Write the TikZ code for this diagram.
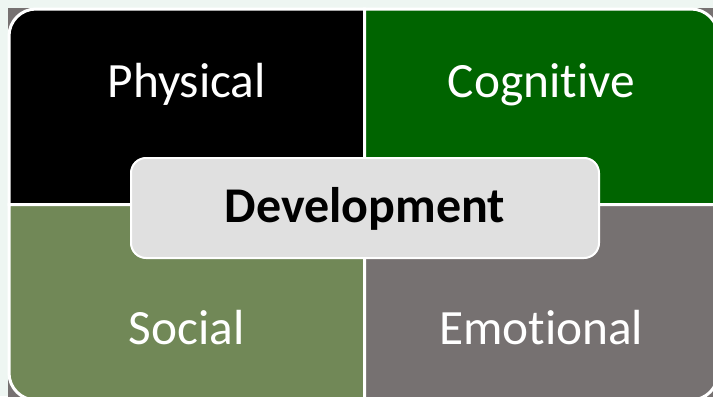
\documentclass[tikz,border=0pt]{standalone}
\usepackage{fontspec}
\setmainfont{Carlito}[Ligatures={NoCommon,NoRare,NoContextual}]
\definecolor{pagebg}{RGB}{238,246,242}
\definecolor{framegray}{RGB}{118,113,113}
\definecolor{physfill}{RGB}{0,0,0}
\definecolor{cogfill}{RGB}{0,100,0}
\definecolor{socfill}{RGB}{113,136,87}
\definecolor{emofill}{RGB}{118,113,113}
\definecolor{devfill}{RGB}{224,224,224}
\tikzset{every picture/.style={line width=0.75pt},
  quad/.style={draw=white, line width=2.25pt},
  quadlabel/.style={anchor=base, text=white, inner sep=0pt, font=\fontsize{37}{44}\selectfont},
  devbox/.style={draw=white, line width=1.5pt, fill=devfill, rounded corners=11.25pt,
    minimum width=351pt, minimum height=75pt, inner sep=0pt,
    text height=28.5pt, text depth=7.5pt,
    font=\fontsize{37.5}{44}\selectfont\bfseries}}

\begin{document}
\begin{tikzpicture}[x=0.75pt,y=0.75pt,yscale=-1,xscale=1]
\clip (0,0) rectangle (713,396);

%Shape: Rectangle [background]
\fill [pagebg] (0,0) rectangle (713,396);
%Shape: Rectangle [frame]
\fill [framegray] (8,8) rectangle (730,410);

%Shape: Quadrant [physical]
\draw [quad, fill=physfill] (364.5,204.5) -- (9,204.5) [rounded corners=20.25pt] -- (9,9) [sharp corners] -- (364.5,9) -- cycle ;
%Shape: Quadrant [cognitive]
\draw [quad, fill=cogfill] (364.5,204.5) -- (364.5,9) [rounded corners=20.25pt] -- (718,9) [sharp corners] -- (718,204.5) -- cycle ;
%Shape: Quadrant [social]
\draw [quad, fill=socfill] (364.5,204.5) -- (364.5,400) [rounded corners=20.25pt] -- (9,400) [sharp corners] -- (9,204.5) -- cycle ;
%Shape: Quadrant [emotional]
\draw [quad, fill=emofill] (364.5,204.5) -- (718,204.5) [rounded corners=20.25pt] -- (718,400) [sharp corners] -- (364.5,400) -- cycle ;

% Text Node
\node [quadlabel] (physical) at (186.75,97) {Physical};
% Text Node
\node [quadlabel] (cognitive) at (541.25,97) {Cogni\kern0pt tive};
% Text Node
\node [quadlabel] (social) at (186.75,344) {Social};
% Text Node
\node [quadlabel] (emotional) at (541.25,344) {Emo\kern0pt tional};

% Center box
\node [devbox] (development) at (365,208) {Development};

\end{tikzpicture}
\end{document}
